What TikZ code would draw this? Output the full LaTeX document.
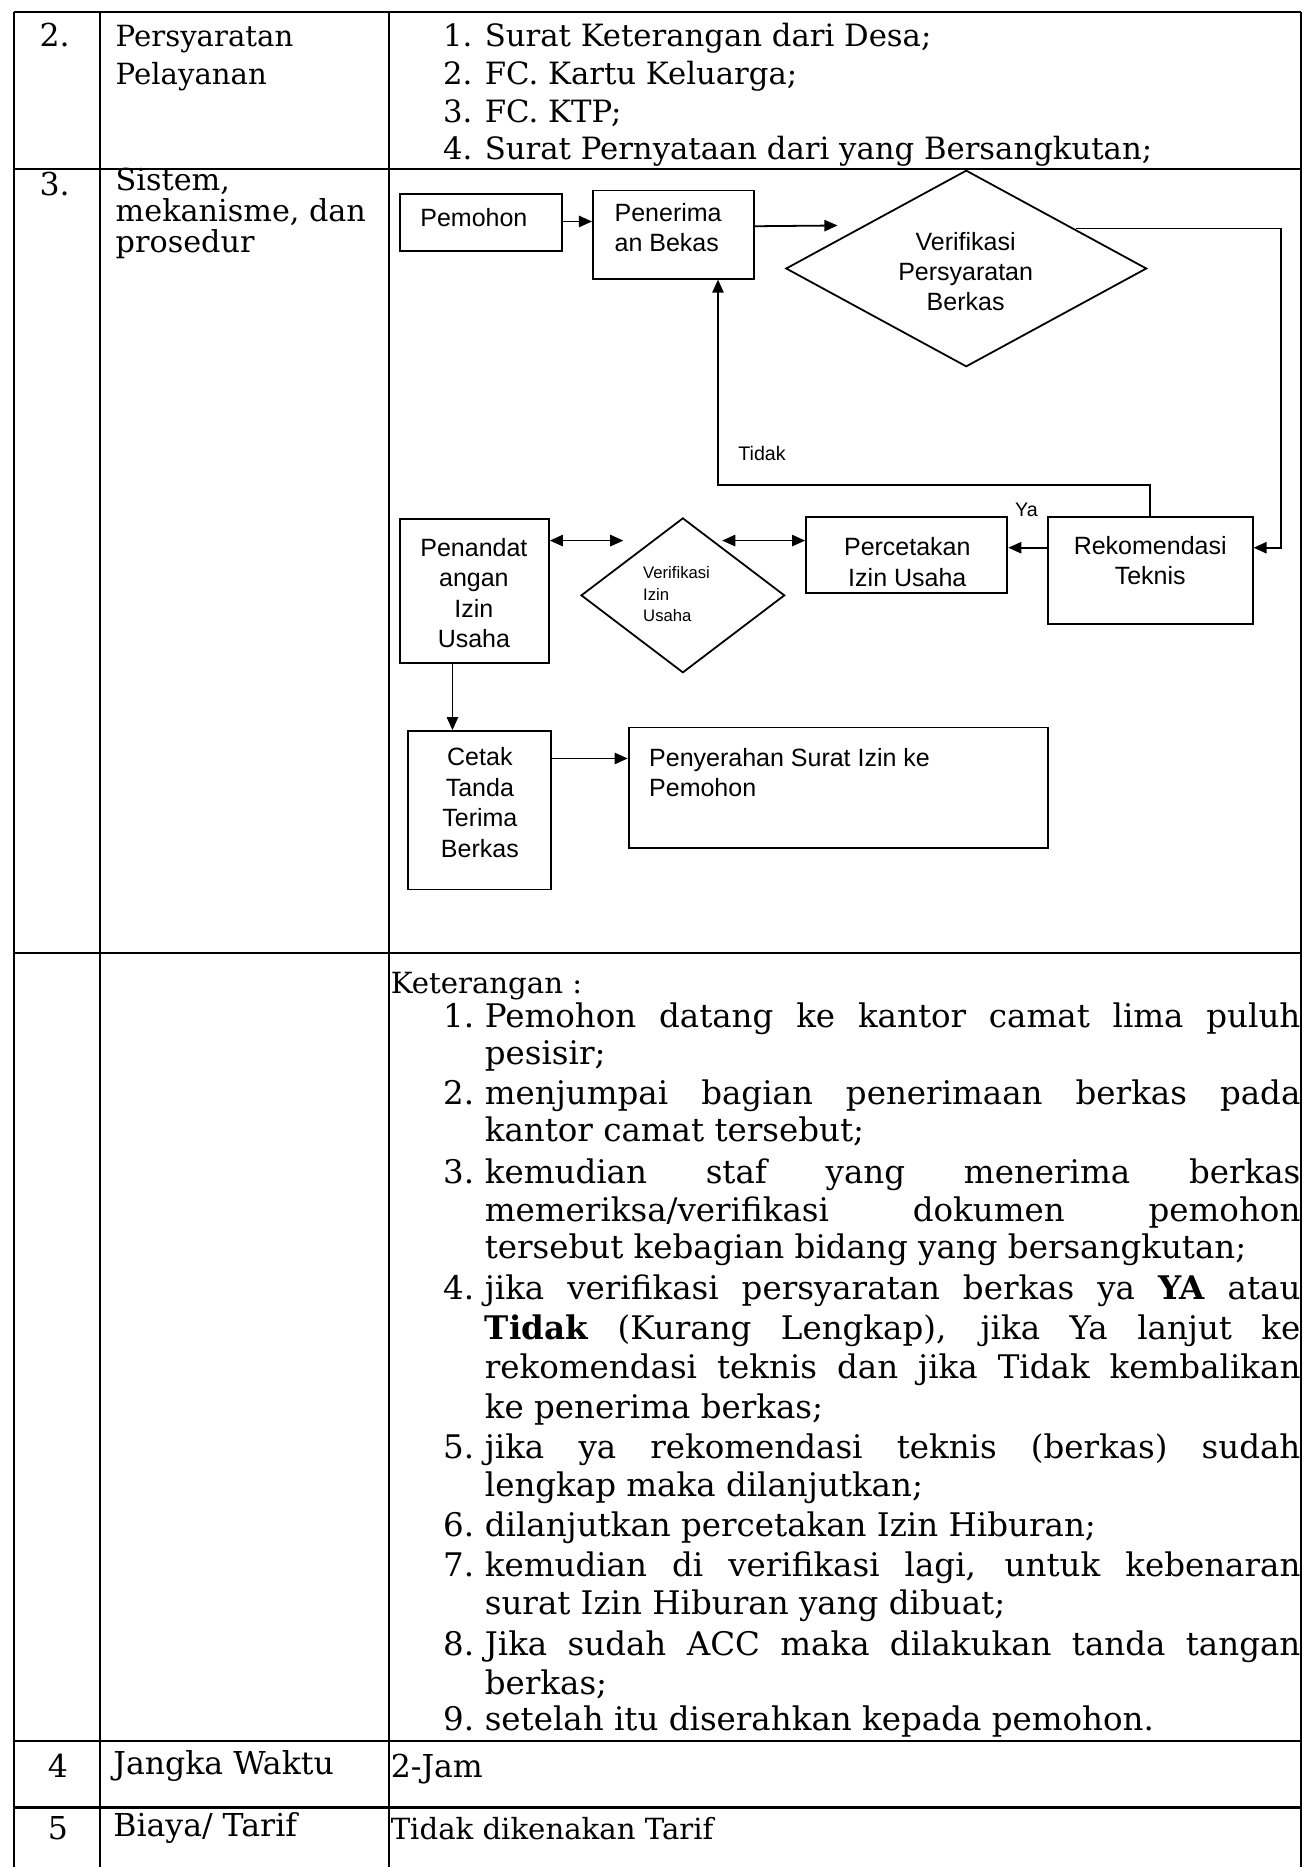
\documentclass[tikz,border=0pt]{standalone}
\usepackage{fontspec}
\setmainfont{DejaVu Serif}
\newfontfamily\flowfont{Liberation Sans}
\usetikzlibrary{shapes.geometric,arrows.meta}

% number + text of a numbered line, and a line set full measure
\newcommand\numitem[2]{\makebox[35pt][l]{#1}#2}
\newcommand\fullline[1]{\makebox[685pt][s]{#1}}

\begin{document}
\begin{tikzpicture}[x=1pt,y=-1pt,
  rule/.style={line width=1.7pt},
  serif/.style={font=\fontsize{26.5}{33}\selectfont, inner sep=0pt, anchor=base west},
  reqtext/.style={font=\fontsize{25.8}{32}\selectfont, inner sep=0pt, anchor=base west},
  labtext/.style={font=\fontsize{24.5}{32}\selectfont, inner sep=0pt, anchor=base west},
  kettext/.style={font=\fontsize{27.3}{33}\selectfont, inner sep=0pt, anchor=base west},
  serifnarrow/.style={font=\fontsize{25.4}{25}\selectfont, inner sep=0pt, anchor=base west},
  box/.style={draw, rectangle, line width=1.6pt, inner sep=0pt},
  dia/.style={draw, diamond, line width=1.5pt, inner sep=0pt},
  ftext/.style={font=\flowfont\fontsize{21}{25.5}\selectfont, inner sep=0pt, align=center},
  fsmall/.style={font=\flowfont\fontsize{14}{18}\selectfont, inner sep=0pt, align=left},
  flabel/.style={font=\flowfont\fontsize{16.5}{20}\selectfont, inner sep=0pt},
  conn/.style={line width=1.5pt},
  arr/.style={conn, -{Triangle[length=11pt,width=9.5pt]}},
  darr/.style={conn, {Triangle[length=11pt,width=9.5pt]}-{Triangle[length=11pt,width=9.5pt]}}
]
\useasboundingbox (0,0) rectangle (1103,1568);
\fill[white] (0,0) rectangle (1103,1568);

% ---------- table rules ----------
\foreach \yy in {10,142,800,1462,1518}
  \draw[rule] (12,\yy) -- (1093,\yy);
\foreach \xx in {12,84,327,1093}
  \draw[rule] (\xx,10) -- (\xx,1568);

% ---------- row 2 ----------
\node[serif] (no2) at (33,39) {2.};
\node[labtext] (lab2a) at (97,39) {Persyaratan};
\node[labtext] (lab2b) at (97,71) {Pelayanan};
\node[reqtext] (req1) at (372,39) {\numitem{1.}{Surat Keterangan dari Desa;}};
\node[reqtext] (req2) at (372,71) {\numitem{2.}{FC. Kartu Keluarga;}};
\node[reqtext] (req3) at (372,103) {\numitem{3.}{FC. KTP;}};
\node[reqtext] (req4) at (372,134) {\numitem{4.}{Surat Pernyataan dari yang Bersangkutan;}};

% ---------- row 3 ----------
\node[serif] (no3) at (33,164) {3.};
\node[serifnarrow] (lab3a) at (97,160) {Sistem,};
\node[serifnarrow] (lab3b) at (97,186) {mekanisme, dan};
\node[serifnarrow] (lab3c) at (97,212) {prosedur};

% flowchart boxes
\node[box, minimum width=136pt, minimum height=48pt] (pemohon) at (404,187) {};
\node[box, minimum width=135pt, minimum height=74pt] (penerimaan) at (565.5,197) {};
\node[dia, minimum width=303pt, minimum height=165pt] (verif1) at (811.5,225.5) {};
\node[box, minimum width=172pt, minimum height=90pt] (rekom) at (966,479) {};
\node[box, minimum width=169pt, minimum height=64pt] (cetakizin) at (761.5,466) {};
\node[dia, minimum width=171pt, minimum height=130pt] (verif2) at (573.5,500) {};
\node[box, minimum width=125pt, minimum height=121pt] (ttd) at (398.5,496.5) {};
\node[box, minimum width=120pt, minimum height=133pt] (tandaterima) at (403,680.5) {};
\node[box, minimum width=352pt, minimum height=101pt] (serah) at (704,661.5) {};

% flowchart texts
\node[ftext] (pemohonT) at (398,183) {Pemohon};
\node[ftext, align=left, anchor=west] (penerimaanT) at (516,191) {Penerima\\an Bekas};
\node[ftext] (verif1T) at (811,228) {Verifikasi\\Persyaratan\\Berkas};
\node[ftext] (rekomT) at (966,471) {Rekomendasi\\Teknis};
\node[ftext] (cetakizinT) at (762,472) {Percetakan\\Izin Usaha};
\node[fsmall, anchor=west] (verif2T) at (540,499) {Verifikasi\\Izin\\Usaha};
\node[ftext] (ttdT) at (398,498) {Penandat\\angan\\Izin\\Usaha};
\node[ftext] (tandaterimaT) at (403,674) {Cetak\\Tanda\\Terima\\Berkas};
\node[ftext, align=left, anchor=west] (serahT) at (545,649) {Penyerahan Surat Izin ke\\Pemohon};
\node[flabel] (tidakL) at (640,381) {Tidak};
\node[flabel] (yaL) at (862,428) {Ya};

% connectors
\draw[arr] (pemohon.east |- 0,186) -- (penerimaan.west |- 0,186);
\draw[arr] ([shift={(0,-7)}]penerimaan.east) -- ([shift={(-32,5.5)}]verif1.north west);
\draw[arr] ([shift={(16,8)}]verif1.north east) -- ++(172,0) |- ([shift={(0,-19)}]rekom.east);
\draw[arr] (rekom.north) -- ++(0,-26) -| ([shift={(37.5,0)}]penerimaan.south);
\draw[arr] ([shift={(0,-19)}]rekom.west) -- ([shift={(0,-19)}]rekom.west -| cetakizin.east);
\draw[darr] ([shift={(0,-12)}]cetakizin.west) -- ([shift={(33,-46)}]verif2.center);
\draw[darr] ([shift={(0,-42.5)}]ttd.east) -- ([shift={(-50,-46)}]verif2.center);
\draw[arr] ([shift={(-18.5,0)}]ttd.south) -- ([shift={(-18.5,0)}]ttd.south |- tandaterima.north);
\draw[arr] ([shift={(0,-43.5)}]tandaterima.east) -- ([shift={(0,-43.5)}]tandaterima.east -| serah.west);

% ---------- explanation ----------
\node[labtext] (ket) at (328,834) {Keterangan :};
\node[kettext] (k1a) at (372,863) {\numitem{1.}{\fullline{Pemohon datang ke kantor camat lima puluh}}};
\node[kettext] (k1b) at (407,894) {pesisir;};
\node[kettext] (k2a) at (372,928) {\numitem{2.}{\fullline{menjumpai bagian penerimaan berkas pada}}};
\node[kettext] (k2b) at (407,959) {kantor camat tersebut;};
\node[kettext] (k3a) at (372,994) {\numitem{3.}{\fullline{kemudian staf yang menerima berkas}}};
\node[kettext] (k3b) at (407,1026) {\fullline{memeriksa/verifikasi dokumen pemohon}};
\node[kettext] (k3c) at (407,1057) {tersebut kebagian bidang yang bersangkutan;};
\node[kettext] (k4a) at (372,1091) {\numitem{4.}{\fullline{jika verifikasi persyaratan berkas ya \textbf{YA} atau}}};
\node[kettext] (k4b) at (407,1125) {\fullline{\textbf{Tidak} (Kurang Lengkap), jika Ya lanjut ke}};
\node[kettext] (k4c) at (407,1158) {\fullline{rekomendasi teknis dan jika Tidak kembalikan}};
\node[kettext] (k4d) at (407,1191) {ke penerima berkas;};
\node[kettext] (k5a) at (372,1225) {\numitem{5.}{\fullline{jika ya rekomendasi teknis (berkas) sudah}}};
\node[kettext] (k5b) at (407,1257) {lengkap maka dilanjutkan;};
\node[kettext] (k6a) at (372,1290) {\numitem{6.}{dilanjutkan percetakan Izin Hiburan;}};
\node[kettext] (k7a) at (372,1324) {\numitem{7.}{\fullline{kemudian di verifikasi lagi, untuk kebenaran}}};
\node[kettext] (k7b) at (407,1356) {surat Izin Hiburan yang dibuat;};
\node[kettext] (k8a) at (372,1390) {\numitem{8.}{\fullline{Jika sudah ACC maka dilakukan tanda tangan}}};
\node[kettext] (k8b) at (407,1423) {berkas;};
\node[kettext] (k9a) at (372,1453) {\numitem{9.}{setelah itu diserahkan kepada pemohon.}};

% ---------- rows 4 and 5 ----------
\node[serif] (no4) at (40,1493) {4};
\node[serif] (lab4) at (95,1490) {Jangka Waktu};
\node[serif] (val4) at (328,1493) {2-Jam};
\node[serif] (no5) at (40,1545) {5};
\node[serif] (lab5) at (95,1542) {Biaya/ Tarif};
\node[labtext] (val5) at (328,1545) {Tidak dikenakan Tarif};
\end{tikzpicture}
\end{document}
